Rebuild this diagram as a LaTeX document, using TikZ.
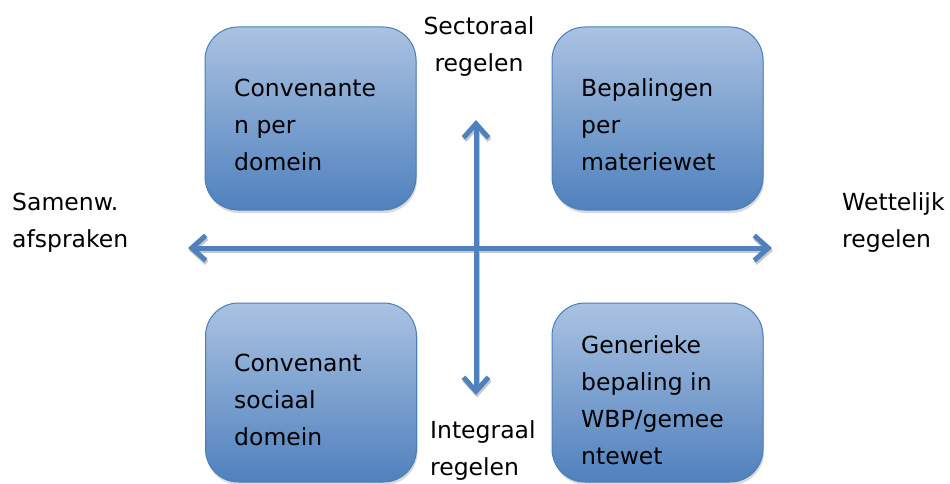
\documentclass[tikz,border=0pt]{standalone}
\usepackage{fontspec}
\setmainfont{DejaVu Sans}
\usetikzlibrary{arrows.meta,shadows}

\definecolor{vlaklicht}{RGB}{170,194,226}
\definecolor{vlakdonker}{RGB}{79,129,189}
\definecolor{vlakrand}{RGB}{74,126,187}
\definecolor{pijlblauw}{RGB}{79,129,189}

\begin{document}
\begin{tikzpicture}[x=1pt,y=-1pt]
		\tikzset{kwadrant/.style = {shape=rectangle, rounded corners=33pt, draw=vlakrand, line width=1pt, top color=vlaklicht, bottom color=vlakdonker, minimum width=211pt, drop shadow={shadow xshift=1pt, shadow yshift=-3pt, opacity=0.3}},
			tekst/.style = {font=\fontsize{23.5}{37}\selectfont, align=left, inner sep=0pt},
			aspijl/.style = {line width=5pt, {Straight Barb[length=14pt,width=25pt]}-{Straight Barb[length=14pt,width=25pt]}}}

		\useasboundingbox (0,0) rectangle (950,484);

		\node[kwadrant, minimum height=183pt] (LB) at (310.5,118.5) {};
		\node[kwadrant, minimum height=183pt] (RB) at (657.5,118.5) {};
		\node[kwadrant, minimum height=179pt] (LO) at (311,392.5) {};
		\node[kwadrant, minimum height=179pt] (RO) at (657.5,392.5) {};

		\node[tekst, anchor=west] (t_LB) at (234,125) {Convenante\\n per\\domein};
		\node[tekst, anchor=west] (t_RB) at (581,125) {Bepalingen\\per\\materiewet};
		\node[tekst, anchor=west] (t_LO) at (234,400) {Convenant\\sociaal\\domein};
		\node[tekst, anchor=west] (t_RO) at (581,400.5) {Generieke\\bepaling in\\WBP/gemee\\ntewet};

		\node[tekst, anchor=west] (samenw) at (12,223) {Samenw.\\afspraken};
		\node[tekst, anchor=west] (wettelijk) at (842,223) {Wettelijk\\regelen};
		\node[tekst, align=center] (sectoraal) at (479,46.5) {Sectoraal\\regelen};
		\node[tekst, anchor=west] (integraal) at (430,451) {Integraal\\regelen};

		\coordinate (links) at (188,248);
		\coordinate (rechts) at (772,248);
		\coordinate (boven) at (476,120);
		\coordinate (onder) at (476,395);

		% schaduw
		\draw[aspijl, draw=black!22, transform canvas={xshift=1pt,yshift=-2.5pt}] (links)--(rechts);
		\draw[aspijl, draw=black!22, transform canvas={xshift=1pt,yshift=-2.5pt}] (boven)--(onder);

		\draw[aspijl, draw=pijlblauw] (links)--(rechts);
		\draw[aspijl, draw=pijlblauw] (boven)--(onder);

	\end{tikzpicture}
\end{document}
